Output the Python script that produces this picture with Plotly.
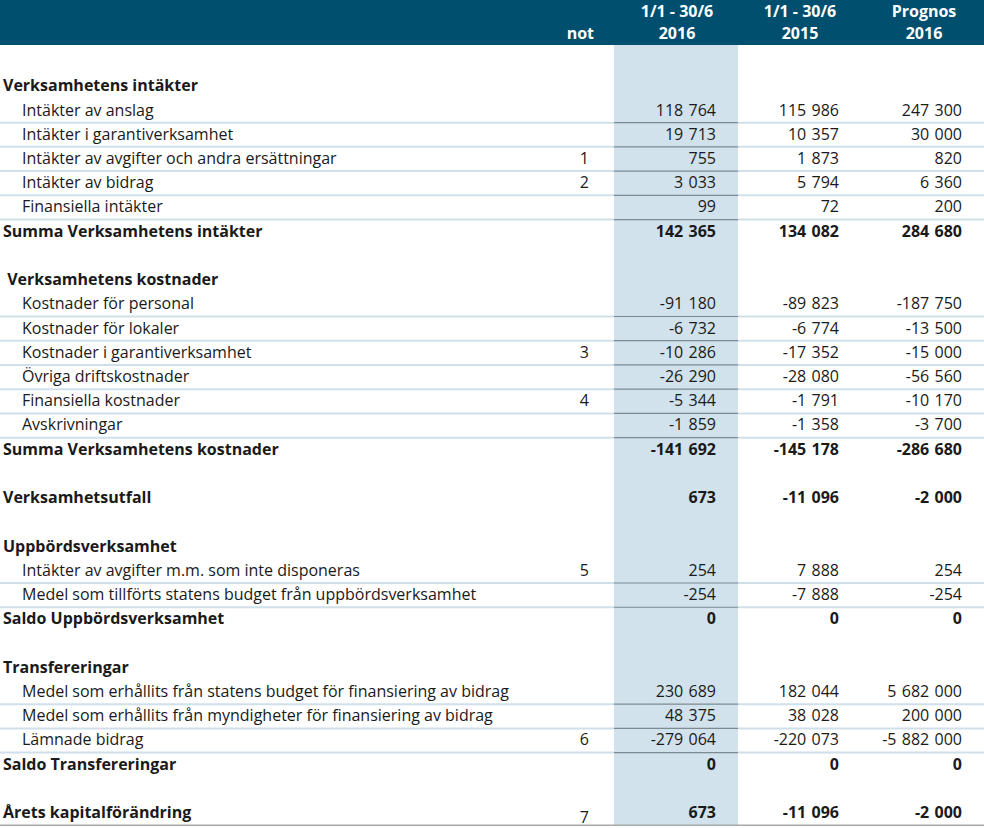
import plotly.graph_objects as go

# ---------------- data ----------------
labels = [
    "Verksamhetens intäkter",
    "Intäkter av anslag",
    "Intäkter i garantiverksamhet",
    "Intäkter av avgifter och andra ersättningar",
    "Intäkter av bidrag",
    "Finansiella intäkter",
    "Summa Verksamhetens intäkter",
    "",
    "\u00a0Verksamhetens kostnader",
    "Kostnader för personal",
    "Kostnader för lokaler",
    "Kostnader i garantiverksamhet",
    "Övriga driftskostnader",
    "Finansiella kostnader",
    "Avskrivningar",
    "Summa Verksamhetens kostnader",
    "",
    "Verksamhetsutfall",
    "",
    "Uppbördsverksamhet",
    "Intäkter av avgifter m.m. som inte disponeras",
    "Medel som tillförts statens budget från uppbördsverksamhet",
    "Saldo Uppbördsverksamhet",
    "",
    "Transfereringar",
    "Medel som erhållits från statens budget för finansiering av bidrag",
    "Medel som erhållits från myndigheter för finansiering av bidrag",
    "Lämnade bidrag",
    "Saldo Transfereringar",
    "",
    "Årets kapitalförändring",
]
kinds = [
    "head", "item", "item", "item", "item", "item", "sum", "blank",
    "head", "item", "item", "item", "item", "item", "item", "sum", "blank",
    "sum", "blank",
    "head", "item", "item", "sum", "blank",
    "head", "item", "item", "item", "sum", "blank",
    "sum",
]
notes = [
    "", "", "", "1", "2", "", "", "",
    "", "", "", "3", "", "4", "", "", "",
    "", "",
    "", "5", "", "", "",
    "", "", "", "6", "", "",
    "7",
]
v2016 = [
    None, 118764, 19713, 755, 3033, 99, 142365, None,
    None, -91180, -6732, -10286, -26290, -5344, -1859, -141692, None,
    673, None,
    None, 254, -254, 0, None,
    None, 230689, 48375, -279064, 0, None,
    673,
]
v2015 = [
    None, 115986, 10357, 1873, 5794, 72, 134082, None,
    None, -89823, -6774, -17352, -28080, -1791, -1358, -145178, None,
    -11096, None,
    None, 7888, -7888, 0, None,
    None, 182044, 38028, -220073, 0, None,
    -11096,
]
prognos2016 = [
    None, 247300, 30000, 820, 6360, 200, 284680, None,
    None, -187750, -13500, -15000, -56560, -10170, -3700, -286680, None,
    -2000, None,
    None, 254, -254, 0, None,
    None, 5682000, 200000, -5882000, 0, None,
    -2000,
]
header_top = ["", "1/1 - 30/6", "1/1 - 30/6", "Prognos"]
header_bottom = ["not", "2016", "2015", "2016"]

# ---------------- styling ----------------
FONT = "Open Sans"
FS = 16
TEXT = "#1a1a1a"
HEAD_BG = "#004f6e"
HILITE = "#d1e2ec"
SEP = "#cfe0eb"
SEP_HI = "#7d8a92"
BOTTOM = "#a9a9a9"

X_LABEL_HEAD = 3
X_LABEL_ITEM = 22
X_NOTE = 589
X_COLS = [716, 839, 962]
X_HEAD_CENTERS = [677, 800, 924]
HILITE_X = (614, 738)

W, H = 984, 828
ROW0_PX = 86.3
ROW_PX = 24.23
HEAD_H_PX = 45
TEXT_SHIFT = 0.04  # small downward nudge of text within a row


def px_to_row(p):
    return (p - ROW0_PX) / ROW_PX


def fmt(v):
    if v is None:
        return ""
    return f"{v:,}".replace(",", "\u2009\u2009")


rows = list(range(len(labels)))
fig = go.Figure()

# label traces
for kind, xpos, bold in [("head", X_LABEL_HEAD, True), ("sum", X_LABEL_HEAD, True),
                         ("item", X_LABEL_ITEM, False)]:
    idx = [i for i in rows if kinds[i] == kind]
    fig.add_trace(go.Scatter(
        x=[xpos] * len(idx), y=[i + TEXT_SHIFT for i in idx], mode="text",
        text=[labels[i] for i in idx], textposition="middle right",
        textfont=dict(family=FONT, size=FS, color=TEXT,
                      weight="bold" if bold else "normal"),
        hoverinfo="skip", showlegend=False, cliponaxis=False,
    ))

# notes (the last note sits slightly lower, as in the source)
idx = [i for i in rows if notes[i]]
fig.add_trace(go.Scatter(
    x=[X_NOTE] * len(idx),
    y=[i + TEXT_SHIFT + (0.2 if i == len(labels) - 1 else 0) for i in idx],
    mode="text",
    text=[notes[i] for i in idx], textposition="middle left",
    textfont=dict(family=FONT, size=FS, color=TEXT),
    hoverinfo="skip", showlegend=False, cliponaxis=False,
))

# values
for series, xpos in zip([v2016, v2015, prognos2016], X_COLS):
    for bold in (False, True):
        idx = [i for i in rows if series[i] is not None and (kinds[i] == "sum") == bold]
        fig.add_trace(go.Scatter(
            x=[xpos] * len(idx), y=[i + TEXT_SHIFT for i in idx], mode="text",
            text=[fmt(series[i]) for i in idx], textposition="middle left",
            textfont=dict(family=FONT, size=FS, color=TEXT,
                          weight="bold" if bold else "normal"),
            hoverinfo="skip", showlegend=False, cliponaxis=False,
        ))

# header texts
hy_top = px_to_row(12.5)
hy_bot = px_to_row(34.5)
fig.add_trace(go.Scatter(
    x=X_HEAD_CENTERS, y=[hy_top] * 3, mode="text", text=header_top[1:],
    textposition="middle center",
    textfont=dict(family=FONT, size=FS, color="white", weight="bold"),
    hoverinfo="skip", showlegend=False, cliponaxis=False,
))
fig.add_trace(go.Scatter(
    x=X_HEAD_CENTERS, y=[hy_bot] * 3, mode="text", text=header_bottom[1:],
    textposition="middle center",
    textfont=dict(family=FONT, size=FS, color="white", weight="bold"),
    hoverinfo="skip", showlegend=False, cliponaxis=False,
))
fig.add_trace(go.Scatter(
    x=[X_NOTE + 5], y=[hy_bot], mode="text", text=[header_bottom[0]],
    textposition="middle left",
    textfont=dict(family=FONT, size=FS, color="white", weight="bold"),
    hoverinfo="skip", showlegend=False, cliponaxis=False,
))

shapes = []
last = len(labels) - 1
head_bottom_row = px_to_row(HEAD_H_PX)
# header band
shapes.append(dict(type="rect", xref="x", yref="y", x0=0, x1=W,
                   y0=px_to_row(0), y1=head_bottom_row,
                   fillcolor=HEAD_BG, line=dict(width=0), layer="below"))
# highlighted column
shapes.append(dict(type="rect", xref="x", yref="y", x0=HILITE_X[0], x1=HILITE_X[1],
                   y0=head_bottom_row, y1=last + 0.5,
                   fillcolor=HILITE, line=dict(width=0), layer="below"))
# separators
for i in range(last):
    if kinds[i] == "item" and kinds[i + 1] in ("item", "sum"):
        shapes.append(dict(type="line", xref="x", yref="y", x0=0, x1=W,
                           y0=i + 0.5, y1=i + 0.5,
                           line=dict(color=SEP, width=2), layer="below"))
        shapes.append(dict(type="line", xref="x", yref="y",
                           x0=HILITE_X[0], x1=HILITE_X[1],
                           y0=i + 0.5, y1=i + 0.5,
                           line=dict(color=SEP_HI, width=1.2), layer="below"))
# bottom rule
shapes.append(dict(type="line", xref="x", yref="y", x0=0, x1=W,
                   y0=last + 0.5, y1=last + 0.5,
                   line=dict(color=BOTTOM, width=1.5), layer="below"))

fig.update_layout(
    width=W, height=H, margin=dict(l=0, r=0, t=0, b=0),
    paper_bgcolor="white", plot_bgcolor="white",
    shapes=shapes, showlegend=False,
    xaxis=dict(range=[0, W], visible=False, fixedrange=True),
    yaxis=dict(range=[px_to_row(H), px_to_row(0)], visible=False, fixedrange=True),
)
fig.write_html(
    "out.html",
    config={"displayModeBar": False},
    post_script="document.body.style.margin='0';document.body.style.overflow='hidden';",
)
